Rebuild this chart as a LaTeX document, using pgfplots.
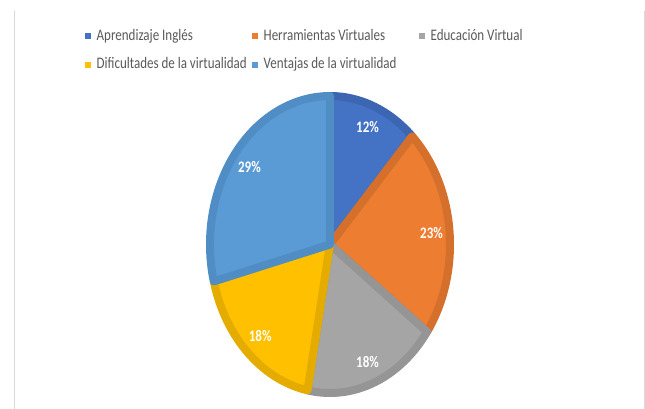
\documentclass[border=0pt]{standalone}
\usepackage{fontspec}
\setmainfont{Carlito}[FakeStretch=0.808]
\usepackage{pgfplots}
\usepackage{pgfplotstable}
\pgfplotsset{compat=1.18}

\definecolor{cA}{HTML}{4472C4}\definecolor{cAd}{HTML}{3C66B2}
\definecolor{cB}{HTML}{ED7D31}\definecolor{cBd}{HTML}{D4702B}
\definecolor{cC}{HTML}{A5A5A5}\definecolor{cCd}{HTML}{959595}
\definecolor{cD}{HTML}{FFC000}\definecolor{cDd}{HTML}{E5AC00}
\definecolor{cE}{HTML}{5B9BD5}\definecolor{cEd}{HTML}{4F8DC4}
\definecolor{frame}{HTML}{D9D9D9}
\definecolor{legtext}{HTML}{595959}

\pgfplotstableread[col sep=comma]{
name,value
Aprendizaje Inglés,12
Herramientas Virtuales,23
Educación Virtual,18
Dificultades de la virtualidad,18
Ventajas de la virtualidad,29
}\piedata

\pgfplotstablegetelem{0}{value}\of\piedata\edef\vA{\pgfplotsretval}
\pgfplotstablegetelem{1}{value}\of\piedata\edef\vB{\pgfplotsretval}
\pgfplotstablegetelem{2}{value}\of\piedata\edef\vC{\pgfplotsretval}
\pgfplotstablegetelem{3}{value}\of\piedata\edef\vD{\pgfplotsretval}
\pgfplotstablegetelem{4}{value}\of\piedata\edef\vE{\pgfplotsretval}

\pgfmathsetmacro\aA{90}
\pgfmathsetmacro\aB{\aA-3.6*\vA}
\pgfmathsetmacro\aC{\aB-3.6*\vB}
\pgfmathsetmacro\aD{\aC-3.6*\vC}
\pgfmathsetmacro\aE{\aD-3.6*\vD}
\pgfmathsetmacro\aF{\aE-3.6*\vE}
\pgfmathsetmacro\mA{(\aA+\aB)/2}
\pgfmathsetmacro\mB{(\aB+\aC)/2}
\pgfmathsetmacro\mC{(\aC+\aD)/2}
\pgfmathsetmacro\mD{(\aD+\aE)/2}
\pgfmathsetmacro\mE{(\aE+\aF)/2}

\newcommand\chartfont{\fontsize{16.1bp}{19bp}\selectfont}
\newcommand\entry[1]{\makebox[161bp][l]{\hspace{5.7bp}#1}}

\begin{document}
\begin{tikzpicture}
\path[use as bounding box] (0,0) rectangle (645bp,409bp);
\draw[frame, line width=1bp] (14.3bp,0) -- (14.3bp,398bp);
\draw[frame, line width=1bp] (644.3bp,0) -- (644.3bp,398bp);
\begin{axis}[
  at={(330bp,164.5bp)}, anchor=origin,
  scale only axis, width=240bp, height=297bp,
  xmin=-1, xmax=1, ymin=-1, ymax=1,
  hide axis, clip=false,
  legend columns=3,
  legend image code/.code={\fill[#1, draw=none] (0bp,-3bp) rectangle (6bp,3bp);},
  legend style={
    at={(axis cs:-2.042,1.455)}, anchor=north west,
    draw=none, fill=none, inner sep=0pt, outer sep=0pt,
    column sep=0pt, row sep=12.3bp,
    font=\chartfont, text=legtext,
    nodes={inner sep=0pt, outer sep=0pt, text height=12bp, text depth=4bp},
  },
  slice/.style args={#1/#2}{fill=#1, draw=none, clip, forget plot,
     postaction={draw=#2, line width=8bp, line join=round}},
  every axis plot/.append style={samples=90},
]
\addplot[slice=cA/cAd, domain=\aB:\aA] ({cos(x)},{sin(x)}) -- (axis cs:0,0) -- cycle;
\addplot[slice=cB/cBd, domain=\aC:\aB] ({cos(x)},{sin(x)}) -- (axis cs:0,0) -- cycle;
\addplot[slice=cC/cCd, domain=\aD:\aC] ({cos(x)},{sin(x)}) -- (axis cs:0,0) -- cycle;
\addplot[slice=cD/cDd, domain=\aE:\aD] ({cos(x)},{sin(x)}) -- (axis cs:0,0) -- cycle;
\addplot[slice=cE/cEd, domain=\aF:\aE] ({cos(x)},{sin(x)}) -- (axis cs:0,0) -- cycle;
\addlegendimage{fill=cA}\addlegendentry{\entry{Aprendizaje Inglés}}
\addlegendimage{fill=cB}\addlegendentry{\entry{Herramientas Virtuales}}
\addlegendimage{fill=cC}\addlegendentry{\entry{Educación Virtual}}
\addlegendimage{fill=cD}\addlegendentry{\entry{Dificultades de la virtualidad}}
\addlegendimage{fill=cE}\addlegendentry{\entry{Ventajas de la virtualidad}}
\begin{scope}[every node/.style={font=\chartfont\bfseries, text=white}]
\node at (axis cs:{0.85*cos(\mA)},{0.85*sin(\mA)}) {\vA\%};
\node at (axis cs:{0.85*cos(\mB)},{0.85*sin(\mB)}) {\vB\%};
\node at (axis cs:{0.85*cos(\mC)},{0.85*sin(\mC)}) {\vC\%};
\node at (axis cs:{0.85*cos(\mD)},{0.85*sin(\mD)}) {\vD\%};
\node at (axis cs:{0.85*cos(\mE)},{0.85*sin(\mE)}) {\vE\%};
\end{scope}
\end{axis}
\end{tikzpicture}
\end{document}
